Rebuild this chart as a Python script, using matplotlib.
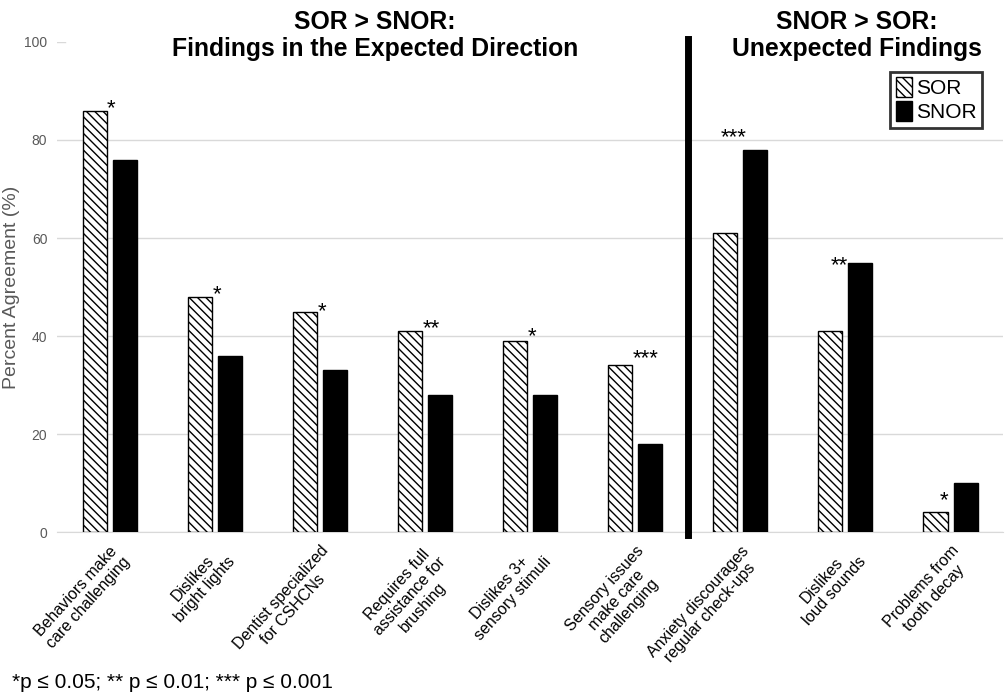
import matplotlib.pyplot as plt
import numpy as np

# ----------------------------
# Data
# ----------------------------
categories = [
    "Behaviors make\ncare challenging",
    "Dislikes\nbright lights",
    "Dentist specialized\nfor CSHCNs",
    "Requires full\nassistance for\nbrushing",
    "Dislikes 3+\nsensory stimuli",
    "Sensory issues\nmake care\nchallenging",
    "Anxiety discourages\nregular check-ups",
    "Dislikes\nloud sounds",
    "Problems from\ntooth decay",
]
sor = [86, 48, 45, 41, 39, 34, 61, 41, 4]
snor = [76, 36, 33, 28, 28, 18, 78, 55, 10]
stars = ["*", "*", "*", "**", "*", "***", "***", "**", "*"]
# height (in %) at which each significance marker sits
star_level = [87, 49, 45.5, 42, 40.5, 36, 81, 55, 7]
n_expected = 6

plt.rcParams['font.family'] = ['Liberation Sans', 'DejaVu Sans']

fig = plt.figure(figsize=(10.06, 6.94), dpi=100)
ax = fig.add_axes([0.0567, 0.2334, 0.9404, 0.7061])

x = np.arange(len(categories))
w = 0.229
off = 0.143

ax.bar(x - off, sor, width=w, color="white", edgecolor="black",
       hatch="\\\\\\\\", linewidth=1.0, label="SOR", zorder=3)
ax.bar(x + off, snor, width=w, color="black", edgecolor="black",
       linewidth=1.0, label="SNOR", zorder=3)

# ----------------------------
# Significance stars
# ----------------------------
for i in range(len(categories)):
    if i < n_expected:
        xs, ha = x[i] - off + w / 2 + 0.005, "left"
    else:
        xs, ha = x[i] - 0.06, "center"
    ax.annotate(stars[i], xy=(xs, star_level[i]), xytext=(0, -6),
                textcoords="offset points", ha=ha, va="baseline",
                fontsize=16, zorder=4)

# ----------------------------
# Axes styling
# ----------------------------
ax.set_xlim(-0.5, len(categories) - 0.5)
ax.set_ylim(0, 100)
ax.set_yticks([0, 20, 40, 60, 80, 100])
ax.set_xticks(x)
ax.set_xticklabels(categories, rotation=48, ha="right",
                   rotation_mode="anchor", fontsize=11.5,
                   multialignment="center", linespacing=1.15)
ax.tick_params(axis="x", length=0, pad=8)
ax.tick_params(axis="y", length=0, pad=7, labelsize=10, labelcolor="#595959")
for s in ["top", "right", "left"]:
    ax.spines[s].set_visible(False)
ax.spines["bottom"].set_color("#d9d9d9")
ax.grid(axis="y", color="#d9d9d9", linewidth=1.0, zorder=0)
ax.get_ygridlines()[-1].set_visible(False)
ax.axhline(100, xmin=0, xmax=0.008, color="#d9d9d9", linewidth=1.0)
ax.set_axisbelow(True)
ax.set_ylabel("Percent Agreement (%)", fontsize=14, color="#595959")
ax.yaxis.set_label_coords(-0.039, 0.5)

# separator between expected / unexpected
ax.axvline(n_expected - 0.5, ymin=-0.007, ymax=1.006, color="black",
           linewidth=5, clip_on=False, zorder=5)

# ----------------------------
# Group titles
# ----------------------------
fig.text(0.373, 0.969, "SOR > SNOR:", ha="center", va="center",
         fontsize=17.8, fontweight="bold")
fig.text(0.373, 0.929, "Findings in the Expected Direction", ha="center", va="center",
         fontsize=17.8, fontweight="bold")
fig.text(0.852, 0.969, "SNOR > SOR:", ha="center", va="center",
         fontsize=17.8, fontweight="bold")
fig.text(0.852, 0.929, "Unexpected Findings", ha="center", va="center",
         fontsize=17.8, fontweight="bold")

# ----------------------------
# Legend
# ----------------------------
leg = ax.legend(loc="upper right", bbox_to_anchor=(0.978, 0.939), fontsize=15,
                frameon=True, fancybox=False, handlelength=0.8, handleheight=1.1,
                handletextpad=0.2, borderpad=0.25, labelspacing=0.15,
                borderaxespad=0)
leg.get_frame().set_edgecolor("black")
leg.get_frame().set_linewidth(2)

# footnote
fig.text(0.012, 0.0086, "*p \u2264 0.05; ** p \u2264 0.01; *** p \u2264 0.001",
         ha="left", va="baseline", fontsize=15)

plt.savefig("out.png", dpi=100)
